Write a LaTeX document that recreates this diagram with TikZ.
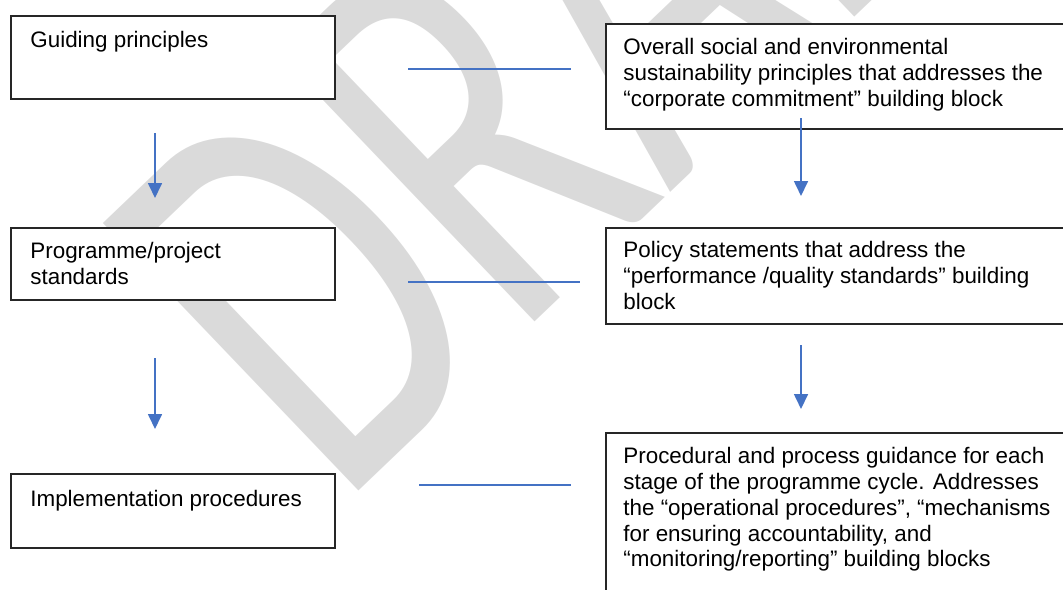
\documentclass[tikz,border=0pt]{standalone}
\usepackage{fontspec}
\setmainfont{Liberation Sans}
\newfontfamily\wmfont{Carlito}
\usetikzlibrary{arrows.meta}

\definecolor{linkblue}{RGB}{68,114,196}
\definecolor{wmgray}{RGB}{218,218,218}
\definecolor{boxline}{RGB}{38,38,38}

\begin{document}
\begin{tikzpicture}[x=0.5pt,y=-0.5pt,
  box/.style={draw=boxline, line width=0.75pt, fill=white, rectangle,
              inner sep=0pt, anchor=north west},
  label/.style={anchor=north west, inner sep=0pt, align=left,
                font=\fontsize{11.2}{12.9}\selectfont},
  flow/.style={draw=linkblue, line width=0.85pt,
               -{Triangle[length=7.5pt,width=7pt]}},
  link/.style={draw=linkblue, line width=1pt},
  watermark/.style={anchor=base west, inner sep=0pt, text=wmgray,
                    font=\wmfont\fontsize{197.5}{197.5}\selectfont,
                    rotate=43.7, yscale=1.46}]

\useasboundingbox (0,0) rectangle (1063,589);
\clip (0,0) rectangle (1063,589);

% background watermark
\node[watermark] (wm) at (339,510) {DRAFT};

% left column
\node[box, minimum width=162pt, minimum height=41.5pt] (g1) at (10,15) {};
\node[box, minimum width=162pt, minimum height=36pt]   (g2) at (10,227) {};
\node[box, minimum width=162pt, minimum height=37pt]   (g3) at (10,473) {};

\node[label] (g1t) at (30,31)  {Guiding principles};
\node[label] (g2t) at (30,242) {Programme/project\\standards};
\node[label] (g3t) at (30,490) {Implementation procedures};

% right column
\node[box, minimum width=237.5pt, minimum height=52.5pt] (d1) at (605,23)  {};
\node[box, minimum width=237.5pt, minimum height=48pt]   (d2) at (605,227) {};
\node[box, minimum width=237.5pt, minimum height=94pt]   (d3) at (605,432) {};

\node[label] (d1t) at (623,38) {Overall social and environmental\\
  sustainability principles that addresses the\\
  “corporate commitment” building block};
\node[label] (d2t) at (623,241) {Policy statements that address the\\
  “performance /quality standards” building\\
  block};
\node[label] (d3t) at (623,447) {Procedural and process guidance for each\\
  stage of the programme cycle. Addresses\\
  the “operational procedures”, “mechanisms\\
  for ensuring accountability, and\\
  “monitoring/reporting” building blocks};

% connector end points
\coordinate (a1s) at (155,133); \coordinate (a1e) at (155,198);
\coordinate (a2s) at (155,358); \coordinate (a2e) at (155,429);
\coordinate (b1s) at (801,118); \coordinate (b1e) at (801,196);
\coordinate (b2s) at (801,345); \coordinate (b2e) at (801,409);
\coordinate (h1l) at (408,69);  \coordinate (h1r) at (571,69);
\coordinate (h2l) at (408,282); \coordinate (h2r) at (580,282);
\coordinate (h3l) at (419,485); \coordinate (h3r) at (571,485);

% downward flow arrows
\draw[flow] (a1s) -- (a1e);
\draw[flow] (a2s) -- (a2e);
\draw[flow] (b1s) -- (b1e);
\draw[flow] (b2s) -- (b2e);

% links between the columns
\draw[link] (h1l) -- (h1r);
\draw[link] (h2l) -- (h2r);
\draw[link] (h3l) -- (h3r);

\end{tikzpicture}
\end{document}
